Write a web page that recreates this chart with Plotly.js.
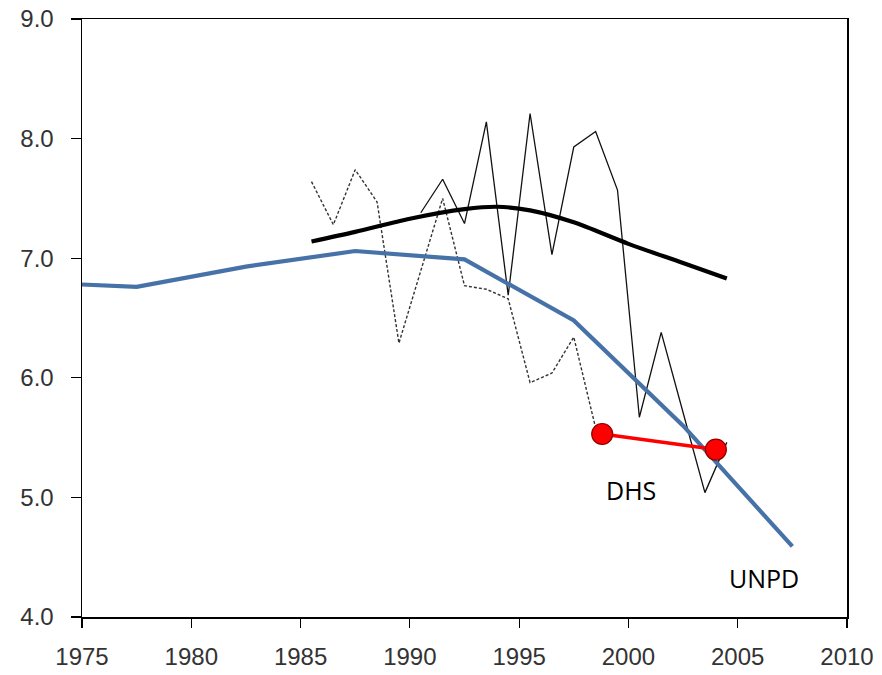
<!DOCTYPE html>
<html>
<head>
<meta charset="utf-8">
<script src="https://cdn.plot.ly/plotly-3.0.1.min.js"></script>
<style>html,body{margin:0;padding:0;background:#fff;}#chart{width:882px;height:675px;}</style>
</head>
<body>
<div id="chart"></div>
<script>
// UNPD estimates (five-year midpoints)
const unpdYears = [1975, 1977.5, 1982.5, 1987.5, 1992.5, 1997.5, 2002.5, 2007.5];
const unpdValues = [6.78, 6.76, 6.93, 7.06, 6.99, 6.48, 5.60, 4.59];

// Smoothed trend (thick black)
const trendYears = [1985.5, 1987.5, 1990, 1992.5, 1994, 1995.5, 1997.5, 2000, 2002.5, 2004.5];
const trendValues = [7.14, 7.22, 7.33, 7.41, 7.43, 7.40, 7.30, 7.12, 6.96, 6.83];

// Annual estimates, series 1 (thin dashed)
const dashYears = [1985.5, 1986.5, 1987.5, 1988.5, 1989.5, 1990.5, 1991.5, 1992.5, 1993.5, 1994.5, 1995.5, 1996.5, 1997.5, 1998.5, 1998.8];
const dashValues = [7.64, 7.28, 7.74, 7.47, 6.29, 6.90, 7.50, 6.77, 6.74, 6.66, 5.96, 6.04, 6.34, 5.58, 5.53];

// Annual estimates, series 2 (thin solid)
const thinYears = [1990.5, 1991.5, 1992.5, 1993.5, 1994.5, 1995.5, 1996.5, 1997.5, 1998.5, 1999.5, 2000.5, 2001.5, 2002.5, 2003.5, 2004.5];
const thinValues = [7.38, 7.66, 7.29, 8.14, 6.69, 8.21, 7.03, 7.93, 8.06, 7.57, 5.67, 6.38, 5.71, 5.04, 5.46];

// DHS survey points
const dhsYears = [1998.8, 2004.0];
const dhsValues = [5.53, 5.40];

const xTicks = [1975, 1980, 1985, 1990, 1995, 2000, 2005, 2010];
const yTicks = [4, 5, 6, 7, 8, 9];
const yTickText = ['4.0', '5.0', '6.0', '7.0', '8.0', '9.0'];

const traces = [
  {x: dashYears, y: dashValues, mode: 'lines', line: {color: '#333333', width: 1.4, dash: '3px,2px'}, hoverinfo: 'skip'},
  {x: thinYears, y: thinValues, mode: 'lines', line: {color: '#111111', width: 1.3}, hoverinfo: 'skip'},
  {x: trendYears, y: trendValues, mode: 'lines', line: {color: '#000000', width: 4.2, shape: 'spline', smoothing: 0.8}, hoverinfo: 'skip'},
  {x: unpdYears, y: unpdValues, mode: 'lines', line: {color: '#4672A8', width: 4.2}, hoverinfo: 'skip'},
  {x: dhsYears, y: dhsValues, mode: 'lines+markers', line: {color: '#FF0000', width: 3.5},
   marker: {color: '#FF0000', size: 21, line: {color: '#8B0000', width: 1.2}}, hoverinfo: 'skip'}
];

const tickFont = {family: 'Liberation Sans, Arial, sans-serif', size: 24, color: '#333333'};

const layout = {
  width: 882, height: 675,
  margin: {l: 82, r: 35, t: 19, b: 58},
  paper_bgcolor: '#ffffff', plot_bgcolor: '#ffffff',
  showlegend: false,
  font: {family: 'Liberation Sans, Arial, sans-serif', size: 24, color: '#333333'},
  xaxis: {
    range: [1975, 2010], tickvals: xTicks, ticktext: xTicks.map(String),
    showgrid: false, zeroline: false, showline: true, linecolor: '#000', linewidth: 1.5, mirror: true,
    ticks: 'outside', ticklen: 9, tickwidth: 1.2, tickcolor: '#000',
    tickfont: tickFont, ticklabelstandoff: 9
  },
  yaxis: {
    range: [4, 9], tickvals: yTicks, ticktext: yTickText,
    showgrid: false, zeroline: false, showline: true, linecolor: '#000', linewidth: 1.5, mirror: true,
    ticks: 'outside', ticklen: 10, tickwidth: 1.2, tickcolor: '#000',
    tickfont: tickFont, ticklabelstandoff: 12
  },
  annotations: [
    {x: 2000.1, y: 5.06, xref: 'x', yref: 'y', text: 'DHS', showarrow: false,
     font: {family: 'Open Sans, Noto Sans, sans-serif', size: 25, color: '#000'}},
    {x: 2006.2, y: 4.33, xref: 'x', yref: 'y', text: 'UNPD', showarrow: false,
     font: {family: 'Open Sans, Noto Sans, sans-serif', size: 25, color: '#000'}}
  ]
};

Plotly.newPlot('chart', traces, layout, {staticPlot: true, displayModeBar: false});
</script>
</body>
</html>
